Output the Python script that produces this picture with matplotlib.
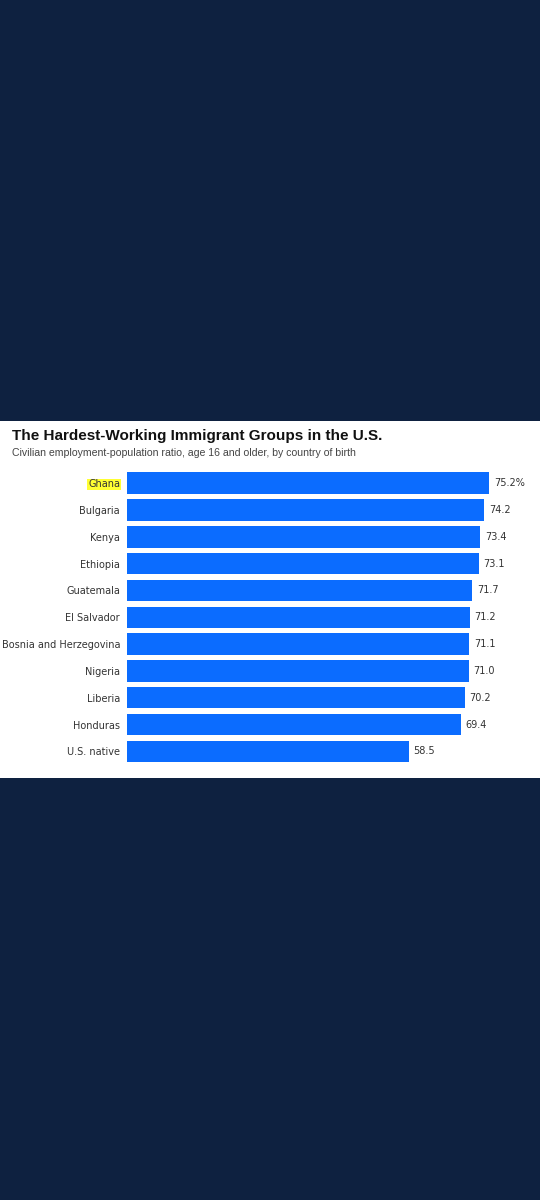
import matplotlib
matplotlib.use("Agg")
from matplotlib import pyplot as plt
from matplotlib.patches import Rectangle

countries = ["Ghana", "Bulgaria", "Kenya", "Ethiopia", "Guatemala", "El Salvador",
             "Bosnia and Herzegovina", "Nigeria", "Liberia", "Honduras", "U.S. native"]
values = [75.2, 74.2, 73.4, 73.1, 71.7, 71.2, 71.1, 71.0, 70.2, 69.4, 58.5]
labels = ["75.2%", "74.2", "73.4", "73.1", "71.7", "71.2", "71.1", "71.0", "70.2", "69.4", "58.5"]

W, H = 540, 1200
fig = plt.figure(figsize=(W/100, H/100), dpi=100)
fig.patch.set_facecolor("#0e2140")

# white card
fig.add_artist(Rectangle((0, 1-778/H), 1, (778-421)/H, transform=fig.transFigure,
                         facecolor="white", edgecolor="none", zorder=0))

fig.text(12/W, 1-436/H, "The Hardest-Working Immigrant Groups in the U.S.",
         fontsize=11, fontweight="bold", color="#111111", va="center", family="Liberation Sans")
fig.text(12/W, 1-453/H, "Civilian employment-population ratio, age 16 and older, by country of birth",
         fontsize=7.6, color="#444444", va="center", family="Liberation Sans")

ax = fig.add_axes([127/W, 1-764.8/H, 385/W, 295/H])
ax.set_facecolor("none")
y = list(range(len(countries)))
ax.barh(y, values, height=0.8, color="#0b6cff", left=0)
ax.set_xlim(0, 80)
ax.set_ylim(len(countries)-0.5, -0.5)
for i, (v, t) in enumerate(zip(values, labels)):
    ax.text(v + 1, i, t, va="center", ha="left", fontsize=7, color="#333333")
ax.set_yticks(y)
ax.set_yticklabels(countries, fontsize=7, color="#333333")
ax.tick_params(axis="y", length=0, pad=5)
ax.set_xticks([])
for s in ax.spines.values():
    s.set_visible(False)
ax.get_yticklabels()[0].set_bbox(dict(facecolor="#ffff33", edgecolor="none", pad=0.5))

fig.savefig("out.png", dpi=100)
